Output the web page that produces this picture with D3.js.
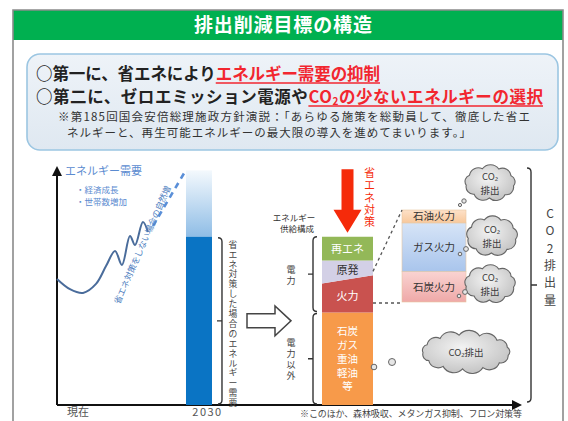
<!DOCTYPE html>
<html><head><meta charset="utf-8">
<script src="https://cdn.jsdelivr.net/npm/d3@7"></script>
<style>
body{margin:0;background:#fff;}
svg{display:block;font-family:"Noto Sans CJK JP","Noto Sans",sans-serif;}
</style></head><body>
<svg id="c" width="568" height="421"></svg>
<script>
// ---- content ----
const title = "排出削減目標の構造";
const pointLeads = ["○第一に、省エネにより", "○第二に、ゼロエミッション電源や"];
const pointKeys = [["エネルギー需要の抑制"], ["CO", "2", "の少ないエネルギーの選択"]];
const noteLines = [
  "※第185回国会安倍総理施政方針演説：「あらゆる施策を総動員して、徹底した省エ",
  "ネルギーと、再生可能エネルギーの最大限の導入を進めてまいります。」"
];
const timeLabels = ["現在", "2030"];
const timeValues = [0, 1];
// energy demand trajectory (time, level)
const demandTimes = [-0.15, -0.045, 0.061, 0.166, 0.247, 0.320, 0.376, 0.441, 0.482, 0.546, 0.587];
const demandLevels = [53.2, 48.9, 47.3, 51.1, 58.6, 65.0, 59.1, 71.3, 67.5, 77.2, 73.0];
const trendTimes = [0.627, 0.895];
const trendLevels = [75.5, 99.2];
const demand2030 = [71, 99];            // with measures, natural increase
const supplyNames = ["電力以外", "火力", "原発", "再エネ"];
const supplyValues = [39, 14, 8, 10];
const supplyColors = ["#f79a4a", "#c9524f", "#d3d0e6", "#93b858"];
const supplyText = ["#ffffff", "#ffffff", "#333333", "#ffffff"];
const nonPowerItems = ["石炭", "ガス", "重油", "軽油", "等"];
const thermalNames = ["石炭火力", "ガス火力", "石油火力"];
const thermalValues = [33, 53, 14];
const demandDriverLabels = ["・経済成長", "・世帯数増加"];

const svg = d3.select("#c");
const defs = svg.append("defs");

// ---- frame & header ----
svg.append("rect").attr("x", 13).attr("y", 10).attr("width", 550).attr("height", 30).attr("fill", "#00b050");
svg.append("path").attr("d", "M13,421V10H563V421").attr("fill", "none").attr("stroke", "#8a8a8a").attr("stroke-width", 1.6);
svg.append("text").attr("x", 283).attr("y", 32).attr("text-anchor", "middle")
  .attr("fill", "#fff").attr("font-size", 19).attr("font-weight", "bold").attr("textLength", 178)
  .text(title);

// ---- message box ----
const boxGrad = defs.append("linearGradient").attr("id", "boxg").attr("x1", 0).attr("y1", 0).attr("x2", 0).attr("y2", 1);
boxGrad.append("stop").attr("offset", 0).attr("stop-color", "#eef3f8");
boxGrad.append("stop").attr("offset", 1).attr("stop-color", "#dfe8f1");
svg.append("rect").attr("x", 27).attr("y", 54).attr("width", 531).attr("height", 96).attr("rx", 13)
  .attr("fill", "url(#boxg)").attr("stroke", "#9cc6e2").attr("stroke-width", 1.6);

const lineY = [80, 103];
const lineW = [344, 507];
pointLeads.forEach((lead, i) => {
  const t = svg.append("text").attr("x", 36).attr("y", lineY[i]).attr("font-size", 16.5).attr("font-weight", "bold")
    .attr("textLength", lineW[i]).attr("lengthAdjust", "spacing");
  t.append("tspan").attr("fill", "#222").text(lead);
  const k = t.append("tspan").attr("fill", "#f2262f");
  pointKeys[i].forEach((part, j) => {
    if (part === "2") k.append("tspan").attr("font-size", 10).attr("dy", 2).text(part);
    else k.append("tspan").attr("dy", j > 0 ? -2 : 0).text(part);
  });
  const n = t.node(), nc = n.getNumberOfChars();
  const a = n.getExtentOfChar(Array.from(lead).length), b = n.getExtentOfChar(nc - 1);
  svg.append("line").attr("x1", a.x).attr("x2", b.x + b.width)
    .attr("y1", lineY[i] + 3).attr("y2", lineY[i] + 3).attr("stroke", "#f2262f").attr("stroke-width", 1.6);
});
svg.selectAll("text.note").data(noteLines).join("text").attr("class", "note")
  .attr("x", (d, i) => i ? 67 : 58).attr("y", (d, i) => 121 + i * 16)
  .attr("font-size", 11.5).attr("fill", "#333")
  .attr("textLength", (d, i) => i ? 404 : 472).attr("lengthAdjust", "spacing").text(d => d);

// ---- scales ----
const xTime = d3.scaleLinear().domain([-0.15, 3.6]).range([57, 520]);
const yDemand = d3.scaleLinear().domain([0, 100]).range([405, 168]);

// arrow markers
defs.append("marker").attr("id", "ah").attr("viewBox", "0 0 10 10").attr("refX", 8).attr("refY", 5)
  .attr("markerWidth", 5).attr("markerHeight", 5).attr("orient", "auto")
  .append("path").attr("d", "M0,0L10,5L0,10z").attr("fill", "#111");

// axes
const [x0, x1] = xTime.range();
svg.append("path").attr("d", `M${x0},${yDemand(0)}V${yDemand(100)}`).attr("stroke", "#111").attr("stroke-width", 2).attr("marker-end", "url(#ah)");
svg.append("path").attr("d", `M${x0},${yDemand(0)}H${x1}`).attr("stroke", "#111").attr("stroke-width", 2).attr("marker-end", "url(#ah)");
const xAxis = svg.append("g").attr("transform", `translate(0,${yDemand(0)})`)
  .call(d3.axisBottom(xTime).tickValues(timeValues).tickFormat((d, i) => timeLabels[i]).tickSize(0).tickPadding(3));
xAxis.select(".domain").remove();
xAxis.selectAll("text").attr("font-size", 11).attr("fill", "#555").attr("font-family", "'Noto Sans CJK JP'")
  .attr("letter-spacing", (d, i) => i ? 1.5 : 0)
  .attr("dx", (d, i) => i ? 8 : 2);

// demand curve
const demandPts = demandTimes.map((t, i) => [xTime(t), yDemand(demandLevels[i])]);
svg.append("path").attr("d", d3.line().curve(d3.curveCatmullRom.alpha(0.5))(demandPts))
  .attr("fill", "none").attr("stroke", "#4a6c9b").attr("stroke-width", 2);
svg.append("path").attr("d", d3.line()(trendTimes.map((t, i) => [xTime(t), yDemand(trendLevels[i])])))
  .attr("fill", "none").attr("stroke", "#5a8fd8").attr("stroke-width", 2.6).attr("stroke-dasharray", "6,5");

svg.append("text").attr("x", 65).attr("y", yDemand(97)).attr("font-size", 11).attr("fill", "#5b8bd0").text("エネルギー需要");
svg.selectAll("text.drv").data(demandDriverLabels).join("text").attr("class", "drv")
  .attr("x", 76).attr("y", (d, i) => yDemand(89.5) + i * 12).attr("font-size", 8.5).attr("fill", "#5b8bd0").text(d => d);

// diagonal label along the natural-increase trend
const tA = [xTime(0.35), yDemand(41.5)], tB = [xTime(0.78), yDemand(92.5)];
const ang = Math.atan2(tB[1] - tA[1], tB[0] - tA[0]) * 180 / Math.PI;
svg.append("text").attr("transform", `translate(${(tA[0] + tB[0]) / 2},${(tA[1] + tB[1]) / 2}) rotate(${ang})`)
  .attr("text-anchor", "middle").attr("font-size", 8.6).attr("fill", "#4f7fc0").attr("textLength", 128)
  .text("省エネ対策をしない場合の自然増");

// 2030 demand bar
const barW = 26, barX = xTime(1) - barW / 2;
const fade = defs.append("linearGradient").attr("id", "fade").attr("x1", 0).attr("y1", 1).attr("x2", 0).attr("y2", 0);
fade.append("stop").attr("offset", 0).attr("stop-color", "#8fbde6");
fade.append("stop").attr("offset", 1).attr("stop-color", "#f4f9fd");
svg.append("rect").attr("x", barX).attr("width", barW)
  .attr("y", yDemand(demand2030[1])).attr("height", yDemand(demand2030[0]) - yDemand(demand2030[1])).attr("fill", "url(#fade)");
svg.append("rect").attr("x", barX).attr("width", barW)
  .attr("y", yDemand(demand2030[0])).attr("height", yDemand(0) - yDemand(demand2030[0])).attr("fill", "#0a74c4");

// bracket helper: vertical line with hooked ends and a middle tick
function bracket(x, ya, yb, endDir, tickDir, hook = 4, tick = 5) {
  const ym = (ya + yb) / 2;
  svg.append("path")
    .attr("d", `M${x + endDir * hook},${ya}Q${x},${ya} ${x},${ya + hook}L${x},${yb - hook}Q${x},${yb} ${x + endDir * hook},${yb}` +
      `M${x},${ym}H${x + tickDir * tick}`)
    .attr("fill", "none").attr("stroke", "#333").attr("stroke-width", 1.4);
}
function vtext(x, yStart, str, step, size, color) {
  svg.append("g").selectAll("text").data(Array.from(str)).join("text")
    .attr("x", x).attr("y", (d, i) => yStart + i * step).attr("text-anchor", "middle")
    .attr("font-size", size).attr("fill", color).text(d => d);
}

bracket(barX + barW + 10, yDemand(demand2030[0]) + 1, yDemand(0) - 1, -1, -1);
vtext(barX + barW + 21, yDemand(demand2030[0]) + 11, "省エネ対策した場合のエネルギー需要", 9.9, 8.8, "#444");

// hollow transition arrow
const ac = yDemand(demand2030[0] / 2);
svg.append("path").attr("d", `M247,${ac - 7}H275V${ac - 15}L291,${ac}L275,${ac + 15}V${ac + 7}H247Z`)
  .attr("fill", "#fff").attr("stroke", "#444").attr("stroke-width", 1.5);

// supply composition stack
const sx = 322, sw = 51, tilt = 1.7;
const stackRow = {}; supplyNames.forEach((n, i) => stackRow[n] = supplyValues[i]);
const series = d3.stack().keys(supplyNames)([stackRow]);
series.forEach((s, i) => {
  const lo = s[0][0], hi = s[0][1];
  const tlo = supplyNames[i] === "原発" ? tilt : 0;
  const thi = supplyNames[i] === "火力" ? tilt : 0;
  svg.append("path").attr("d",
    `M${sx},${yDemand(lo - tlo)}L${sx},${yDemand(hi - thi)}L${sx + sw},${yDemand(hi + thi)}L${sx + sw},${yDemand(lo + tlo)}Z`)
    .attr("fill", supplyColors[i]);
  const mid = (lo + hi) / 2;
  if (supplyNames[i] === "電力以外") {
    svg.append("g").selectAll("text").data(nonPowerItems).join("text")
      .attr("x", sx + sw / 2).attr("y", (d, j) => yDemand(mid) + (j - 2) * 13.8 + 4)
      .attr("text-anchor", "middle").attr("font-size", 10.5).attr("fill", supplyText[i]).text(d => d);
  } else {
    svg.append("text").attr("x", sx + sw / 2).attr("y", yDemand(mid) + 4).attr("text-anchor", "middle")
      .attr("font-size", 11).attr("fill", supplyText[i]).text(supplyNames[i]);
  }
});
const powerTop = d3.sum(supplyValues), powerBottom = supplyValues[0];
bracket(sx - 9, yDemand(powerTop), yDemand(powerBottom) - 1, 1, -1);
bracket(sx - 9, yDemand(powerBottom) + 1, yDemand(0) - 1, 1, -1);
vtext(291, yDemand((powerTop + powerBottom) / 2) - 2, "電力", 11, 9, "#444");
vtext(291, yDemand(powerBottom / 2) - 13, "電力以外", 11, 9, "#444");
svg.append("text").attr("x", 294).attr("y", yDemand(79.5) + 4).attr("text-anchor", "middle").attr("font-size", 8.5).attr("fill", "#333").text("エネルギー");
svg.append("text").attr("x", 297).attr("y", yDemand(74.5) + 4).attr("text-anchor", "middle").attr("font-size", 8.5).attr("fill", "#333").text("供給構成");

// red energy-saving arrow
const ax = sx + sw / 2, aTop = yDemand(99.5), aTip = yDemand(powerTop) - 4;
svg.append("path").attr("d", `M${ax - 6},${aTop}H${ax + 6}V${aTip - 23}H${ax + 14}L${ax},${aTip}L${ax - 14},${aTip - 23}H${ax - 6}Z`)
  .attr("fill", "#f52a0a");
vtext(ax + 22, aTop + 8, "省エネ対策", 12.3, 11, "#f52a0a");

// thermal breakdown boxes
const tx = 402, tw = 64;
const yMix = d3.scaleLinear().domain([0, 100]).range([302, 210]);
const thermalFills = [["#f9d3d1", "#efa9a8"], ["#d6e4f7", "#a9c5ec"], ["#fde1c8", "#f8c89b"]];
let acc = 0;
thermalNames.forEach((n, i) => {
  const g = defs.append("linearGradient").attr("id", "tg" + i).attr("x1", 0).attr("y1", 0).attr("x2", 0).attr("y2", 1);
  g.append("stop").attr("offset", 0).attr("stop-color", thermalFills[i][0]);
  g.append("stop").attr("offset", 1).attr("stop-color", thermalFills[i][1]);
  const lo = acc, hi = acc + thermalValues[i]; acc = hi;
  svg.append("rect").attr("x", tx).attr("width", tw).attr("y", yMix(hi)).attr("height", yMix(lo) - yMix(hi))
    .attr("fill", `url(#tg${i})`).attr("stroke", "#e6c6a0").attr("stroke-width", 0.6);
  svg.append("text").attr("x", tx + tw / 2).attr("y", (yMix(lo) + yMix(hi)) / 2 + 4).attr("text-anchor", "middle")
    .attr("font-size", 10.5).attr("fill", "#333").text(n);
});
// dashed connectors from the thermal segment to its breakdown
const thermalTop = supplyValues[0] + supplyValues[1];
svg.append("path").attr("d", `M${sx + sw},${yDemand(thermalTop + tilt) - 4}L${tx},${yMix(100)}M${sx + sw},${yMix(0) + 1}H${tx}`)
  .attr("fill", "none").attr("stroke", "#555").attr("stroke-width", 1.3).attr("stroke-dasharray", "3,3");

// clouds
const cg = defs.append("radialGradient").attr("id", "cloudg").attr("cx", 0.45).attr("cy", 0.4).attr("r", 0.7);
cg.append("stop").attr("offset", 0).attr("stop-color", "#f3f3f3");
cg.append("stop").attr("offset", 1).attr("stop-color", "#bdbdbd");
function cloudPath(cx, cy, rx, ry, n) {
  const pts = d3.range(n).map(i => {
    const a = i / n * 2 * Math.PI + 0.2;
    return [cx + rx * Math.cos(a), cy + ry * Math.sin(a)];
  });
  let d = `M${pts[0][0]},${pts[0][1]}`;
  pts.forEach((p, i) => {
    const q = pts[(i + 1) % n];
    const r = Math.hypot(q[0] - p[0], q[1] - p[1]) * 0.62;
    d += `A${r},${r} 0 0 1 ${q[0]},${q[1]}`;
  });
  return d + "Z";
}
const clouds = [
  {cx: 490, cy: 183, rx: 24, ry: 15, n: 9, lines: ["CO₂", "排出"], tail: [[464, 201, 2.2], [460, 205, 1.6]]},
  {cx: 492, cy: 236, rx: 24, ry: 17, n: 9, lines: ["CO₂", "排出"], tail: [[466, 249, 2.4], [460, 254, 1.8]]},
  {cx: 490, cy: 284, rx: 24, ry: 16, n: 9, lines: ["CO₂", "排出"], tail: [[465, 292, 2.4], [459, 296, 1.8]]},
  {cx: 466, cy: 352, rx: 43, ry: 17, n: 13, lines: ["CO₂排出"], tail: [[392, 362, 3.5], [374, 367, 2.8]]}
];
clouds.forEach(c => {
  svg.append("path").attr("d", cloudPath(c.cx, c.cy, c.rx, c.ry, c.n))
    .attr("fill", "url(#cloudg)").attr("stroke", "#666").attr("stroke-width", 1.1);
  c.tail.forEach(t => svg.append("circle").attr("cx", t[0]).attr("cy", t[1]).attr("r", t[2])
    .attr("fill", "#e6e6e6").attr("stroke", "#666").attr("stroke-width", 1));
  c.lines.forEach((ln, i) => {
    svg.append("text").attr("x", c.cx).attr("y", c.cy + 3.5 + (i - (c.lines.length - 1) / 2) * 14)
      .attr("text-anchor", "middle").attr("font-size", 9.5).attr("fill", "#3a3a3a").text(ln);
  });
});

// CO2 emissions bracket
bracket(531, 168, 402, -1, 1, 4, 6);
const co2Chars = ["C", "O", "2", "排", "出", "量"];
svg.append("g").selectAll("text").data(co2Chars).join("text")
  .attr("x", 550).attr("y", (d, i) => 218 + i * 17.3).attr("text-anchor", "middle")
  .attr("font-size", 12).attr("fill", "#444").text(d => d);

// footnote
svg.append("text").attr("x", 300).attr("y", 417).attr("font-size", 9).attr("fill", "#444").attr("textLength", 222)
  .text("※このほか、森林吸収、メタンガス抑制、フロン対策等");
</script>
</body></html>
